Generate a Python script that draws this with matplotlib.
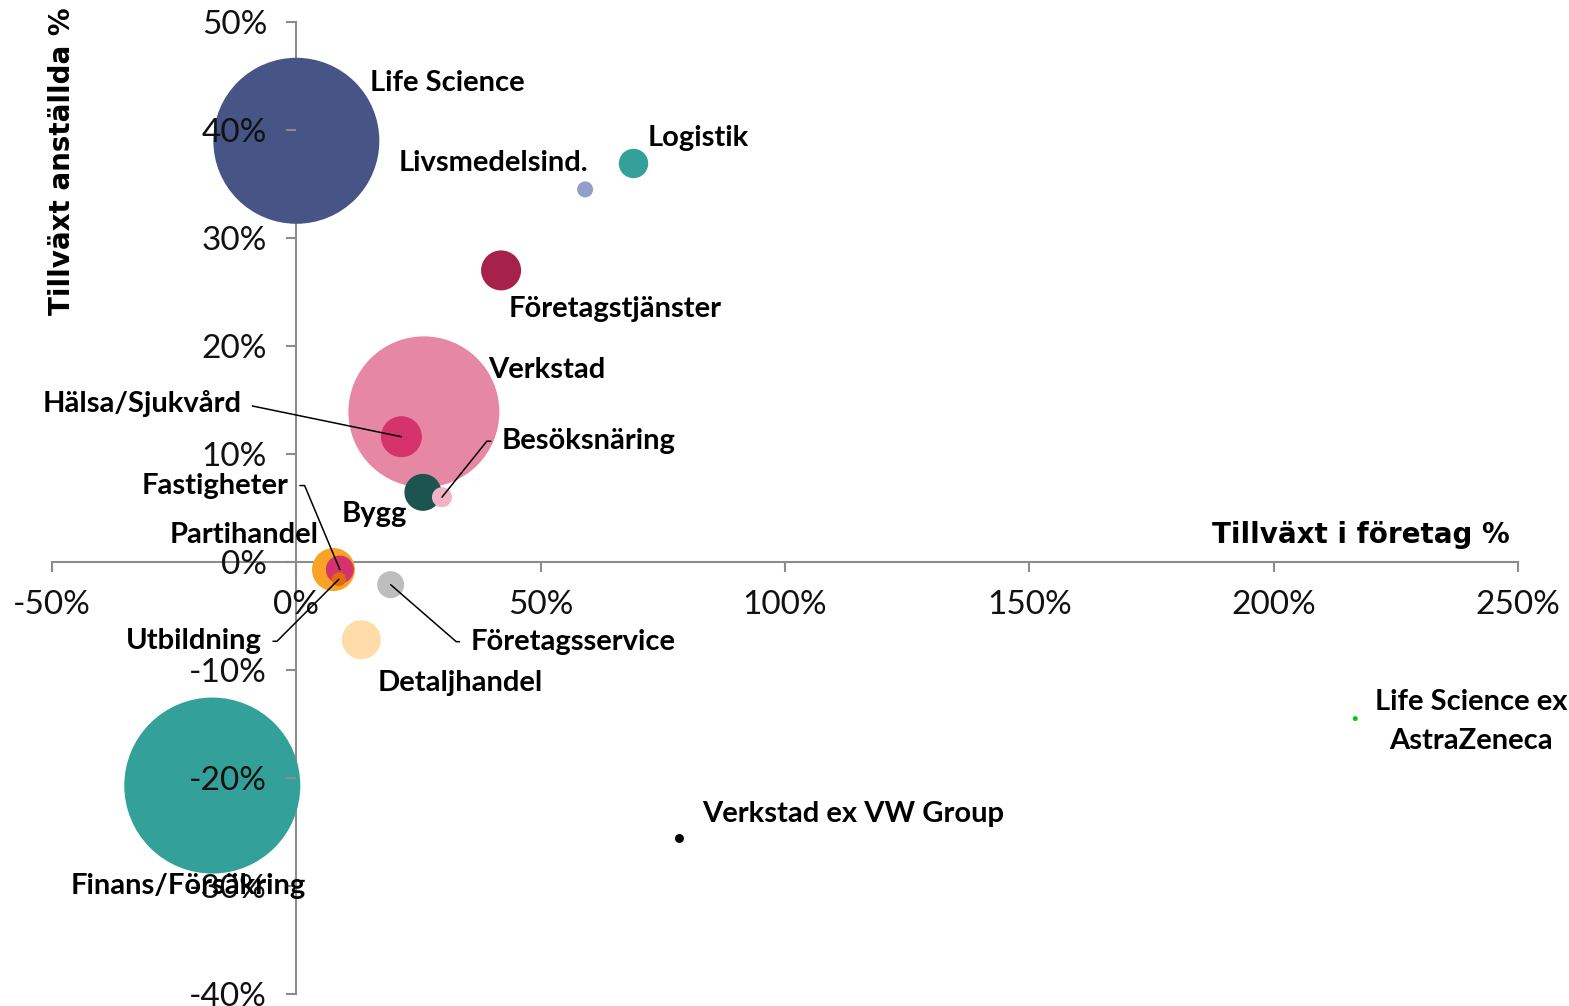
import matplotlib
matplotlib.use('Agg')
import matplotlib.pyplot as plt
from matplotlib.ticker import FuncFormatter

# Data: growth in companies (%), growth in employees (%), bubble area (relative)
branscher = ['Life Science', 'Finans/Försäkring', 'Verkstad', 'Hälsa/Sjukvård', 'Bygg',
             'Besöksnäring', 'Företagstjänster', 'Logistik', 'Livsmedelsind.', 'Partihandel',
             'Fastigheter', 'Utbildning', 'Företagsservice', 'Detaljhandel',
             'Life Science ex\nAstraZeneca', 'Verkstad ex VW Group']
tillvaxt_foretag = [0.0, -17.2, 26.1, 21.5, 25.9, 29.8, 41.9, 69.0, 59.1, 7.6,
                    8.9, 8.7, 19.3, 13.3, 216.7, 78.4]
tillvaxt_anstallda = [39.0, -20.7, 13.9, 11.6, 6.45, 6.0, 27.0, 36.9, 34.5, -0.7,
                      -0.7, -1.6, -2.1, -7.2, -14.5, -25.6]
storlek = [6889, 7744, 5700, 420, 342, 100, 400, 216, 64, 462, 196, 49, 182, 380, 6, 20]
farger = ['#465486', '#33A19A', '#E688A3', '#D6336C', '#1C5450', '#F2B3C6', '#A6224A',
          '#33A19A', '#939FCB', '#F9A326', '#D6336C', '#E06A10', '#BEBEBE', '#FFDCA8',
          '#00CC00', '#000000']

x_ticks = [-50, 0, 50, 100, 150, 200, 250]
y_ticks = [-40, -30, -20, -10, 0, 10, 20, 30, 40, 50]

# label placement (offset pixels from bubble, alignment, leader line)
etiketter = {
    'Life Science': (74, 58, 'left', None),
    'Finans/Försäkring': (-142, -100, 'left', None),
    'Verkstad': (64, 42, 'left', None),
    'Hälsa/Sjukvård': (-160, 33, 'right', (1, 0, 0)),
    'Bygg': (-16, -22, 'right', None),
    'Besöksnäring': (60, 56, 'left', (0, 180, 21)),
    'Företagstjänster': (8, -39, 'left', None),
    'Logistik': (14, 25, 'left', None),
    'Livsmedelsind.': (3, 26, 'right', None),
    'Partihandel': (-15, 35, 'right', None),
    'Fastigheter': (-51, 84, 'right', (1, 0, 22)),
    'Utbildning': (-77, -62, 'right', (1, 0, 21)),
    'Företagsservice': (80, -57, 'left', (0, 180, 20)),
    'Detaljhandel': (16, -43, 'left', None),
    'Life Science ex\nAstraZeneca': (116, -3, 'center', None),
    'Verkstad ex VW Group': (23, 24, 'left', None),
}

dpi = 100
fig = plt.figure(figsize=(15.69, 10.06), dpi=dpi)
ax = fig.add_axes([52 / 1569, 12 / 1006, 1466 / 1569, 972 / 1006])

px_to_pt = 72 / dpi
sizes = [(2 * s ** 0.5 * px_to_pt) ** 2 for s in storlek]
ax.scatter(tillvaxt_foretag, tillvaxt_anstallda, s=sizes, c=farger, linewidths=0, zorder=1)

ax.set_xlim(-50, 250)
ax.set_ylim(-40, 50)
ax.set_xticks(x_ticks)
ax.set_yticks(y_ticks)
fmt = FuncFormatter(lambda v, p: f'{v:.0f}%')
ax.xaxis.set_major_formatter(fmt)
ax.yaxis.set_major_formatter(fmt)

axis_grey = '#8C8C8C'
for side in ['top', 'right']:
    ax.spines[side].set_visible(False)
for side in ['left', 'bottom']:
    ax.spines[side].set_position(('data', 0))
    ax.spines[side].set_color(axis_grey)
    ax.spines[side].set_linewidth(1.5)
    ax.spines[side].set_zorder(0.5)
ax.patch.set_visible(False)

ax.tick_params(direction='out', length=7, width=1.5, color=axis_grey, labelsize=24,
               labelcolor='#111111')
ax.tick_params(axis='x', pad=13)
ax.tick_params(axis='y', pad=14)
for lab in ax.get_xticklabels() + ax.get_yticklabels():
    lab.set_fontfamily(['Lato', 'DejaVu Sans'])
    lab.set_fontweight('normal')

for namn, x, y in zip(branscher, tillvaxt_foretag, tillvaxt_anstallda):
    dx, dy, ha, linje = etiketter[namn]
    props = None
    if linje is not None:
        relx, vinkel, arm = linje
        props = dict(arrowstyle='-', color='black', lw=1.1, shrinkA=6, shrinkB=0,
                     relpos=(relx, 0.5),
                     connectionstyle=f'arc,angleA={vinkel},armA={arm * px_to_pt:.1f},angleB=0,armB=0,rad=0')
    ax.annotate(namn, xy=(x, y), xytext=(dx, dy), textcoords='offset pixels',
                ha=ha, va='center', multialignment='center', linespacing=1.62,
                fontsize=21, fontweight='bold', family=['Lato', 'DejaVu Sans'],
                arrowprops=props, zorder=3)

fig.text(62 / 1569, 1 - 161 / 1006, 'Tillväxt anställda %', rotation=90, ha='center', va='center',
         fontsize=20, fontweight='bold', family=['DejaVu Sans'])
fig.text(1510 / 1569, 1 - 535 / 1006, 'Tillväxt i företag %', ha='right', va='center',
         fontsize=20, fontweight='bold', family=['DejaVu Sans'])

fig.savefig('out.png', dpi=dpi)
